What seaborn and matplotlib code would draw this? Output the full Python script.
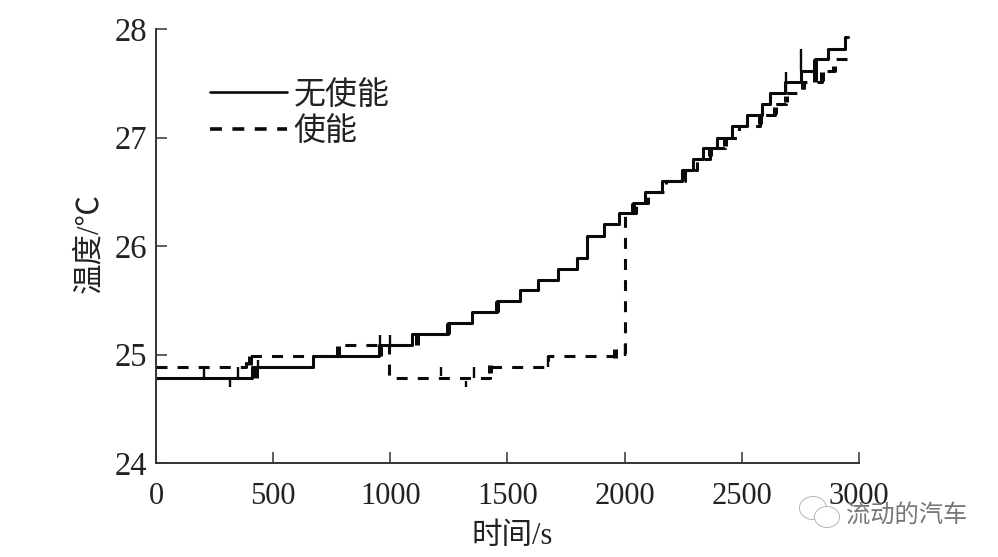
import matplotlib
matplotlib.use("Agg")
import matplotlib.pyplot as plt
import pandas as pd
import seaborn as sns
from matplotlib.patches import Ellipse

# step curves, each level holds until the next time
time_off = [0, 408, 669, 950, 1093, 1246, 1349, 1455, 1553, 1632, 1716, 1796, 1840, 1912, 1976, 2036, 2087,
            2160, 2244, 2292, 2335, 2394, 2458, 2522, 2586, 2620, 2684, 2752, 2812, 2868, 2940, 2955]
temp_off = [24.78, 24.885, 24.985, 25.09, 25.19, 25.29, 25.39, 25.49, 25.59, 25.69, 25.79, 25.89, 26.09,
            26.2, 26.3, 26.4, 26.5, 26.6, 26.7, 26.8, 26.9, 27.0, 27.11, 27.21, 27.31, 27.41, 27.51,
            27.61, 27.72, 27.82, 27.93, 27.93]

time_on = [0, 385, 777, 995, 1425, 1674, 2000, 2050, 2100, 2175, 2258, 2310, 2364, 2428, 2490, 2578,
           2642, 2689, 2761, 2842, 2894, 2950]
temp_on = [24.885, 24.985, 25.09, 24.78, 24.885, 24.985, 26.3, 26.4, 26.5, 26.6, 26.7, 26.8, 26.9, 27.0,
           27.11, 27.21, 27.31, 27.41, 27.51, 27.61, 27.72, 27.72]

# short risers and blobs where the trace chatters between two levels
thin_t = [205, 350, 1215, 1322, 1357, 1674, 2000, 316, 436, 956, 1000, 2752, 2690]
thin_lo = [24.78, 24.78, 24.8, 24.7, 24.78, 24.885, 24.985, 24.7, 24.885, 25.09, 25.09, 27.61, 27.42]
thin_hi = [24.885, 24.885, 24.885, 24.76, 24.885, 24.985, 25.1, 24.78, 24.95, 25.18, 25.18, 27.82, 27.6]

blob_t = [400, 777, 1425, 1960, 2364, 2428, 2578, 2642, 2689, 2761, 2842, 2894,
          425, 956, 1113, 1246, 1455, 2036, 2812]
blob_lo = [24.9, 24.99, 24.83, 24.97, 26.83, 26.92, 27.12, 27.22, 27.33, 27.45, 27.52, 27.6,
           24.78, 24.985, 25.09, 25.19, 25.39, 26.3, 27.51]
blob_hi = [24.985, 25.08, 24.9, 25.05, 26.9, 27.0, 27.2, 27.28, 27.38, 27.52, 27.6, 27.66,
           24.885, 25.09, 25.19, 25.29, 25.49, 26.4, 27.72]

x_ticks = [0, 500, 1000, 1500, 2000, 2500, 3000]
y_ticks = [24, 25, 26, 27, 28]

sns.set_theme(style="white")
plt.rcParams["font.family"] = ["Liberation Serif", "Noto Sans CJK SC"]
plt.rcParams["axes.unicode_minus"] = False

fig = plt.figure(figsize=(9.98, 5.57), dpi=100)
ax = fig.add_axes([156 / 998, (557 - 463) / 557, 703 / 998, 434 / 557])

df_on = pd.DataFrame({"t": time_on, "T": temp_on})
df_off = pd.DataFrame({"t": time_off, "T": temp_off})

sns.lineplot(data=df_on, x="t", y="T", ax=ax, color="#0a0a0a", linewidth=2.2, estimator=None, sort=False,
             drawstyle="steps-post", linestyle=(0, (3.6, 3.3)), label="使能")
sns.lineplot(data=df_off, x="t", y="T", ax=ax, color="#0a0a0a", linewidth=2.2, estimator=None, sort=False,
             drawstyle="steps-post", label="无使能")
ax.vlines(thin_t, thin_lo, thin_hi, color="#0a0a0a", linewidth=1.7)
ax.vlines(blob_t, blob_lo, blob_hi, color="#0a0a0a", linewidth=3.6)

ax.set_xlim(0, 3000)
ax.set_ylim(24, 28)
ax.set_xticks(x_ticks)
ax.set_yticks(y_ticks)
ax.tick_params(direction="in", length=8, width=1.1, color="#333333", labelcolor="#222222",
               left=True, bottom=True)
ax.tick_params(axis="x", labelsize=22, pad=13.5)
ax.tick_params(axis="y", labelsize=23.5, pad=6.5)
ax.set_xlabel("时间/s", fontsize=22, color="#222222", va="center")
ax.xaxis.set_label_coords(0.506, -0.17)
ax.set_ylabel("温度/℃", fontsize=22, color="#222222", va="center")
ax.yaxis.set_label_coords(-0.094, 0.507)
sns.despine(ax=ax)
for side in ["left", "bottom"]:
    ax.spines[side].set_linewidth(1.4)
    ax.spines[side].set_color("#333333")

# legend order in the picture is the solid line first
handles, labels = ax.get_legend_handles_labels()
leg = ax.legend(handles[::-1], labels[::-1], loc="upper left", bbox_to_anchor=(0.0775, 0.881), frameon=False,
                fontsize=23, handlelength=2.4, handletextpad=0.2, labelspacing=0.2, borderpad=0, borderaxespad=0,
                labelcolor="#222222")
leg.get_lines()[0].set_linewidth(1.9)
leg.get_lines()[1].set_linewidth(2.6)
leg.get_lines()[1].set_linestyle((0, (3.3, 2.9)))

# watermark, placed in pixel space
over = fig.add_axes([0, 0, 1, 1], zorder=5)
over.set_xlim(0, 998)
over.set_ylim(557, 0)
over.axis("off")
over.patch.set_alpha(0)
over.add_patch(Ellipse((813, 508), 27, 23, fill=False, ec="#aaaaaa", lw=0.6))
over.add_patch(Ellipse((827, 517), 25, 21, fc="white", ec="#aaaaaa", lw=0.6))
over.text(846, 515, "流动的汽车", fontsize=17.5, color="#777777", va="center", ha="left",
          family="Noto Sans CJK SC", fontweight="light")

fig.savefig("out.png", dpi=100, facecolor="white")
